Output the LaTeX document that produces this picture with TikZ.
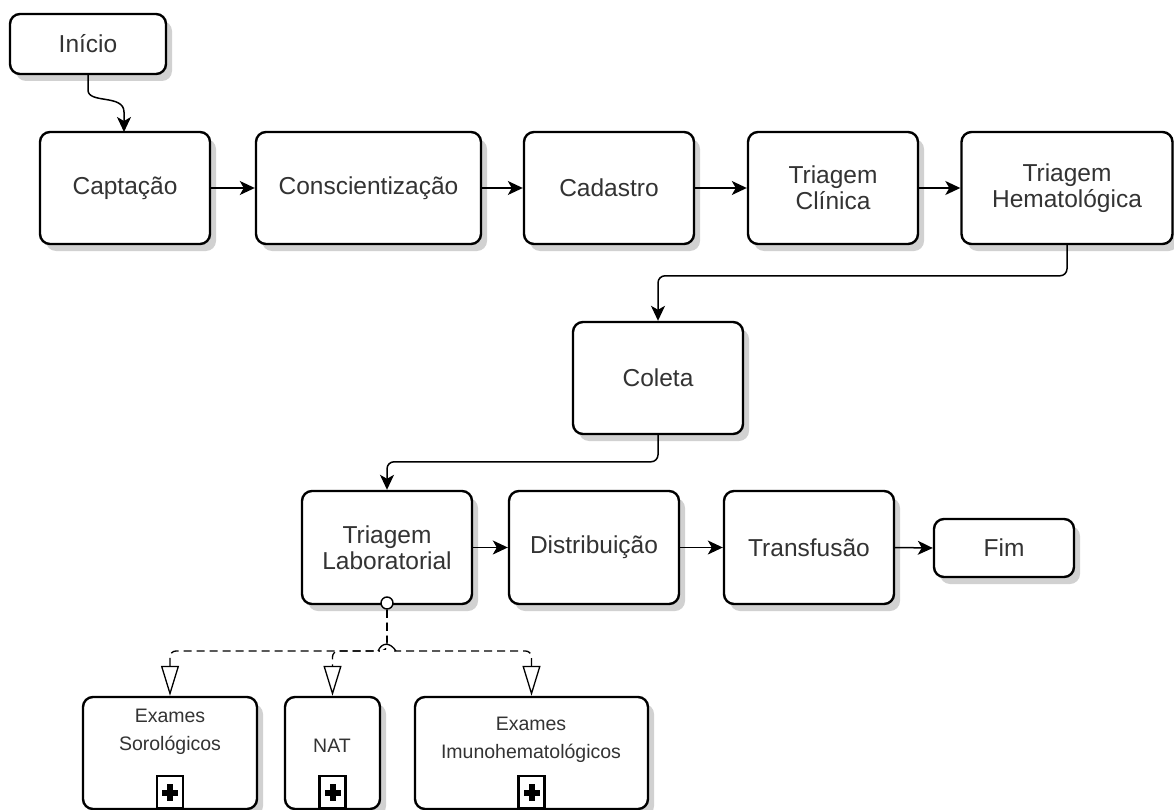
\documentclass[tikz,border=0pt]{standalone}
\usepackage{fontspec}
\setmainfont{Liberation Sans}
\usetikzlibrary{arrows.meta,shadows,calc}
\begin{document}
\begin{tikzpicture}[x=1pt,y=-1pt,
  box/.style={draw=black, line width=2.4pt, rounded corners=10pt, fill=white,
    align=center, inner sep=0pt, text=black!80,
    font=\fontsize{24.5}{26}\selectfont,
    drop shadow={shadow xshift=6pt, shadow yshift=-7pt, opacity=0.18, fill=black}},
  big/.style={box, minimum width=170pt, minimum height=112pt},
  txt/.style={align=center, inner sep=0pt, text=black!80, font=\fontsize{19.5}{28}\selectfont},
  conn/.style={draw=black, line width=1.5pt, -{Stealth[length=15pt,width=14pt,inset=4pt]}},
  assoc/.style={draw=black, line width=1.3pt, dash pattern=on 8pt off 5pt,
    -{Triangle[open,length=30pt,width=18pt,line width=1.3pt]}},
  plusbox/.style={draw=black, line width=2.2pt, fill=white, minimum width=26pt, minimum height=32pt, inner sep=0pt}
]
\useasboundingbox (0,0) rectangle (1174,810);
\fill[white] (0,0) rectangle (1174,810);

% top row
\node[box, minimum width=156pt, minimum height=60pt] (ini) at (88,44) {Início};
\node[big] (capt) at (125,188) {Captação};
\node[big, minimum width=225pt] (consc) at (368.5,188) {Conscientização};
\node[big] (cad) at (609,188) {Cadastro};
\node[big] (tcli) at (833,188) {Triagem\\Clínica};
\node[big, minimum width=211pt] (themat) at (1067,188) {Triagem\\Hematológica};

% middle
\node[big] (col) at (658,378) {Coleta};

% third row
\node[big, minimum height=113pt] (tlab) at (387,547.5) {Triagem\\Laboratorial};
\node[big, minimum height=113pt] (dist) at (594,547.5) {Distribuição};
\node[big, minimum height=113pt] (transf) at (809,547.5) {Transfusão};
\node[box, minimum width=140pt, minimum height=58pt] (fim) at (1004,548) {Fim};

% bottom sub-processes
\node[box, minimum width=174pt, minimum height=112pt] (sor) at (170,753) {};
\node[box, minimum width=95pt, minimum height=112pt] (nat) at (332.5,753) {};
\node[box, minimum width=233pt, minimum height=112pt] (imu) at (531.5,753) {};
\node[txt] (sort) at (170,732) {Exames\\Sorológicos};
\node[txt] (natt) at (332,746) {NAT};
\node[txt] (imut) at (531,740) {Exames\\Imunohematológicos};

% plus markers
\foreach \n in {sor,nat,imu}{
  \node[plusbox, anchor=south] (\n plus) at ($(\n.south)+(0,-1)$) {};
  \fill[black] ($(\n plus.center)+(-8,-2.5)$) rectangle ($(\n plus.center)+(8,3.5)$);
  \fill[black] ($(\n plus.center)+(-3,-8)$) rectangle ($(\n plus.center)+(3,9)$);
}

% connectors
\coordinate (captin) at (124,132);
\draw[conn] (ini.south) -- (88,90) .. controls (88,104) and (124,94) .. (124,112) -- (captin);
\draw[conn] (capt.east) -- (consc.west);
\draw[conn] (consc.east) -- (cad.west);
\draw[conn] (cad.east) -- (tcli.west);
\draw[conn] (tcli.east) -- (themat.west);
\draw[conn, rounded corners=7pt] (themat.south) |- ($(col.north)+(0,-45)$) -- (col.north);
\draw[conn, rounded corners=7pt] (col.south) |- ($(tlab.north)+(0,-28)$) -- (tlab.north);
\draw[conn] (tlab.east) -- (dist.west);
\draw[conn] (dist.east) -- (transf.west);
\draw[conn] (transf.east) -- (fim.west);

% association
\node[draw=black, line width=1.4pt, fill=white, circle, minimum size=12pt, inner sep=0pt] (att) at (387,603) {};
\coordinate (jR) at (393,651);
\draw[assoc, rounded corners=6pt] (att.south) -- (387,651) -| (sor.north);
\draw[assoc, rounded corners=6pt] (att.south) -- (387,651) -| (nat.north);
\draw[black, line width=1.3pt, dash pattern=on 8pt off 5pt] (att.south) -- (387,642);
\draw[assoc, rounded corners=6pt] (jR) -| (imu.north);
\draw[white, line width=3pt] (380,651) -- (394,651);
\draw[black, line width=1.3pt] (378,651) .. controls (382,642) and (390,642) .. (396,651);
\end{tikzpicture}
\end{document}
